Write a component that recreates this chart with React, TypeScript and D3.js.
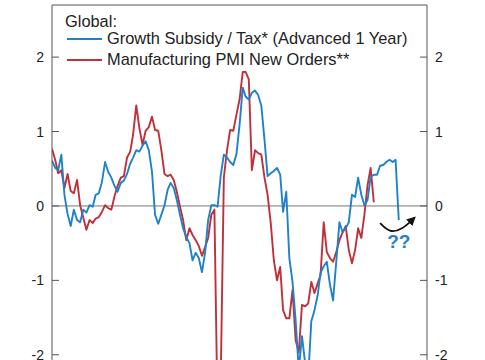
import React from "react";
import * as d3 from "d3";

// monthly, starting Jan 2016
const startYear = 2016;
const subsidyTax = [
  0.61, 0.51, 0.48, 0.69, 0.15, -0.11, -0.27, -0.05, -0.19, -0.22,
  -0.05, -0.09, 0.01, -0.01, 0.15, 0.17, 0.32, 0.59, 0.46, 0.38,
  0.27, 0.19, 0.31, 0.34, 0.43, 0.57, 0.65, 0.75, 0.73, 0.81,
  0.87, 0.75, 0.46, -0.12, -0.24, -0.12, 0.01, 0.22, 0.31, 0.24,
  0.08, -0.12, -0.3, -0.42, -0.5, -0.73, -0.63, -0.7, -0.89, -0.62,
  -0.19, 0.01, 0.01, -0.01, 0.4, 0.69, 0.65, 0.59, 0.55, 0.69,
  1.09, 1.59, 1.47, 1.43, 1.52, 1.55, 1.49, 1.35, 0.89, 0.4,
  0.44, 0.47, 0.51, 0.42, -0.08, 0.19, -0.7, -1.02, -1.53, -2.2,
  -1.75, -2.1, -2.3, -1.55, -1.4, -1.2, -0.9, -0.81, -0.75, -1.06,
  -1.27, -0.75, -0.22, -0.35, -0.3, -0.22, 0.15, 0.12, 0.38, 0.15,
  0.01, 0.08, 0.39, 0.42, 0.42, 0.54, 0.55, 0.59, 0.62, 0.59,
  0.62, -0.19,
];
const pmiNewOrders = [
  0.77, 0.62, 0.44, 0.48, 0.24, 0.43, 0.2, 0.17, 0.35, 0.01,
  -0.16, -0.32, -0.19, -0.23, -0.17, -0.15, -0.08, 0.01, -0.03, -0.05,
  0.13, 0.27, 0.38, 0.4, 0.65, 0.73, 0.96, 1.35, 1.05, 0.82,
  1.01, 1.06, 1.2, 1.02, 1.01, 0.75, 0.43, 0.4, 0.42, 0.35,
  0.19, -0.01, -0.19, -0.46, -0.3, -0.39, -0.46, -0.54, -0.67, -0.55,
  -0.43, -0.12, -0.05, -2.8, -2.4, 0.38, 0.75, 1.02, 1.01, 1.22,
  1.43, 1.8, 1.8, 1.7, 0.48, 0.75, 0.71, 0.69, 0.38, 0.15,
  -0.23, -0.73, -1.0, -0.82, -1.4, -1.51, -1.51, -1.13, -1.8, -1.97,
  -1.33, -1.35, -1.31, -1.02, -1.17, -1.04, -0.93, -0.22, -0.62, -0.7,
  -0.75, -0.62, -0.46, -0.36, -0.27, -0.59, -0.77, -0.59, -0.3, -0.43,
  -0.12, 0.28, 0.51, 0.05,
];
const yTicks = [2, 1, 0, -1, -2];

const BLUE = "#1f82c9";
const RED = "#c0303b";
const FONT = "Liberation Sans, Arial, sans-serif";

const toDate = (i: number) => new Date(startYear, i, 1);

export default function App() {
  const width = 485;
  const height = 360;
  const left = 52;
  const right = 427;
  const top = 5;

  const x = d3
    .scaleTime()
    .domain([new Date(2016, 0, 1), new Date(2026, 0, 1)])
    .range([left, right]);
  const y = d3.scaleLinear().domain([-2.07, 2.7]).range([height, top]);

  const line = d3
    .line<number>()
    .x((d, i) => x(toDate(i)))
    .y((d) => y(d));

  // annotation arrow in data coords (month index, value)
  const arrowPts: [number, number][] = [
    [105.7, -0.23],
    [110, -0.33],
    [116.3, -0.16],
  ];
  const arrowPath = d3
    .line<[number, number]>()
    .x((d) => x(toDate(d[0])))
    .y((d) => y(d[1]))
    .curve(d3.curveBasis)([arrowPts[0], [108.5, -0.36], [112.5, -0.32], arrowPts[2]]);

  return (
    <svg
      width={width}
      height={height}
      style={{ position: "absolute", left: 0, top: 0, background: "#fff" }}
    >
      <defs>
        <clipPath id="plot">
          <rect x={left} y={top} width={right - left} height={500} />
        </clipPath>
        <marker
          id="head"
          viewBox="0 0 10 10"
          refX="8"
          refY="5"
          markerWidth="5"
          markerHeight="5"
          orient="auto"
        >
          <path d="M0,0 L10,5 L0,10 z" fill="#111" />
        </marker>
      </defs>

      {/* zero line */}
      <line x1={left} x2={right} y1={y(0)} y2={y(0)} stroke="#777" strokeWidth={1} />

      <g clipPath="url(#plot)" fill="none" strokeWidth={1.9} strokeLinejoin="round">
        <path d={line(pmiNewOrders) || ""} stroke={RED} />
        <path d={line(subsidyTax) || ""} stroke={BLUE} />
      </g>

      {/* frame */}
      <path
        d={`M${left},${height + 20}V${top}H${right}V${height + 20}`}
        fill="none"
        stroke="#555"
        strokeWidth={1}
      />

      {yTicks.map((t) => (
        <g key={t} fontFamily={FONT} fontSize={14} fill="#222">
          <line x1={left} x2={left + 7} y1={y(t)} y2={y(t)} stroke="#555" />
          <line x1={right - 7} x2={right} y1={y(t)} y2={y(t)} stroke="#555" />
          <text x={44} y={y(t)} dy="0.36em" textAnchor="end">
            {t}
          </text>
          <text x={435} y={y(t)} dy="0.36em" textAnchor="start">
            {t}
          </text>
        </g>
      ))}

      {/* legend */}
      <g fontFamily={FONT} fontSize={16.4} fill="#222">
        <text x={65} y={27}>
          Global:
        </text>
        <line x1={67} x2={102} y1={39} y2={39} stroke={BLUE} strokeWidth={2} />
        <text x={107} y={43.5}>
          Growth Subsidy / Tax* (Advanced 1 Year)
        </text>
        <line x1={67} x2={102} y1={60} y2={60} stroke={RED} strokeWidth={2} />
        <text x={107} y={64.5}>
          Manufacturing PMI New Orders**
        </text>
      </g>

      {/* annotation */}
      <path
        d={arrowPath || ""}
        fill="none"
        stroke="#111"
        strokeWidth={1.8}
        markerEnd="url(#head)"
      />
      <text
        x={x(toDate(111.8))}
        y={y(-0.57)}
        textAnchor="middle"
        fontFamily={FONT}
        fontWeight="bold"
        fontSize={19}
        fill={BLUE}
      >
        ??
      </text>
    </svg>
  );
}
